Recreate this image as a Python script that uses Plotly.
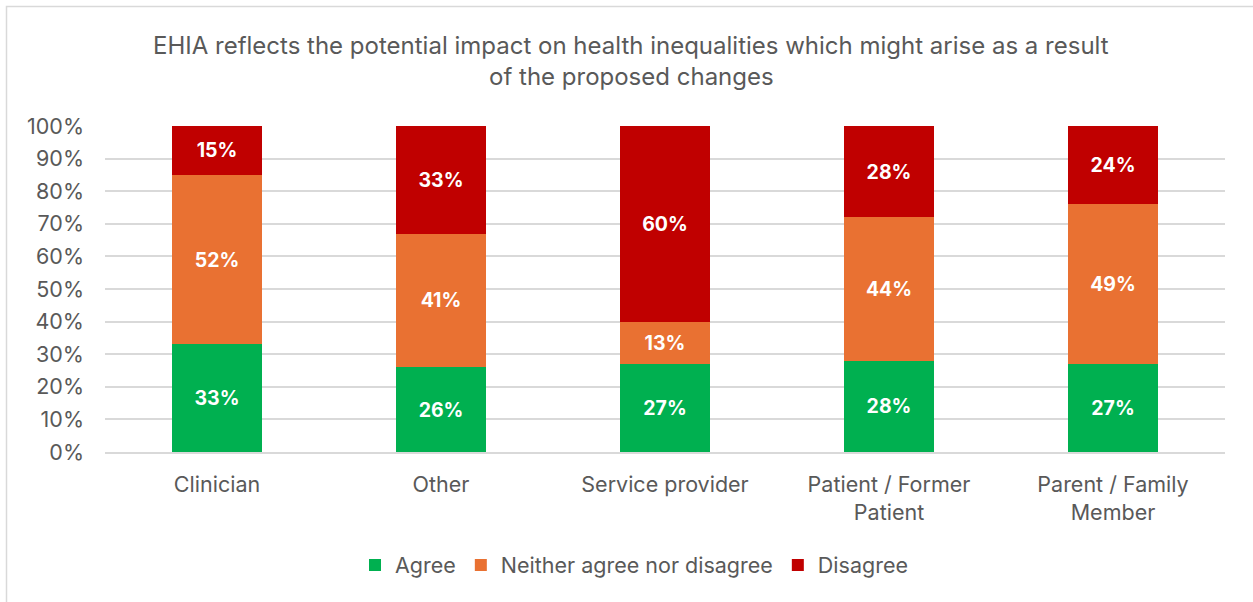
import plotly.graph_objects as go

categories = ["Clinician", "Other", "Service provider", "Patient / Former<br>Patient", "Parent / Family<br>Member"]
agree = [33, 26, 27, 28, 27]
neither = [52, 41, 13, 44, 49]
disagree = [15, 33, 60, 28, 24]
series_names = ["Agree", "Neither agree nor disagree", "Disagree"]
colors = ["#00B050", "#E97132", "#C00000"]
title_lines = ["EHIA reflects the potential impact on health inequalities which might arise as a result",
               "of the proposed changes"]
tick_vals = [0, 10, 20, 30, 40, 50, 60, 70, 80, 90, 100]
tick_text = [f"{v}%" for v in tick_vals]

FONT = "Inter"
GREY = "#595959"
L, R, T, B = 105, 28, 126, 150
PW, PH = 1253 - L - R, 602 - T - B

fig = go.Figure()
for name, vals, col in zip(series_names, [agree, neither, disagree], colors):
    fig.add_trace(go.Bar(
        x=categories, y=vals, name=name, marker_color=col, marker_line_width=0,
        text=[f"{v}%" for v in vals], textposition="inside", insidetextanchor="middle",
        textangle=0, constraintext="none", hoverinfo="x+y+name",
        textfont=dict(family=FONT, size=19.5, color="white", weight="bold"),
    ))

fig.update_layout(
    barmode="stack", bargap=0.6,
    width=1253, height=602,
    margin=dict(l=L, r=R, t=T, b=B),
    paper_bgcolor="white", plot_bgcolor="white",
    font=dict(family=FONT, size=21.5, color=GREY),
    showlegend=True,
    legend=dict(orientation="h", x=(634 - L) / PW, xanchor="center", y=(T + PH - 565) / PH, yanchor="middle",
                font=dict(family=FONT, size=21.5, color=GREY),
                traceorder="normal", bgcolor="rgba(0,0,0,0)"),
    xaxis=dict(showline=True, linecolor="#D9D9D9", linewidth=1.5, ticks="",
               ticklabelstandoff=12,
               tickfont=dict(family=FONT, size=21.5, color=GREY)),
    yaxis=dict(range=[0, 100], tickvals=tick_vals, ticktext=tick_text,
               showgrid=True, gridcolor="#D9D9D9", gridwidth=1.5, zeroline=False,
               ticklabelstandoff=20,
               tickfont=dict(family=FONT, size=21.5, color=GREY), ticks="", ticklen=0),
)

for i, line in enumerate(title_lines):
    fig.add_annotation(text=line, xref="paper", yref="paper",
                       x=(631 - L) / PW, y=(T + PH - (45 + 31 * i)) / PH,
                       xanchor="center", yanchor="middle", showarrow=False,
                       font=dict(family=FONT, size=24, color=GREY))

# chart frame (left and top edges visible)
fig.add_shape(type="rect", xref="paper", yref="paper",
              x0=(6.5 - L) / PW, x1=(1270 - L) / PW,
              y0=(T + PH - 620) / PH, y1=(T + PH - 6.5) / PH,
              line=dict(color="#D9D9D9", width=1.5), fillcolor="rgba(0,0,0,0)", layer="below")

fig.write_html("out.html", config={"displayModeBar": False},
               post_script="document.body.style.margin='0';")
